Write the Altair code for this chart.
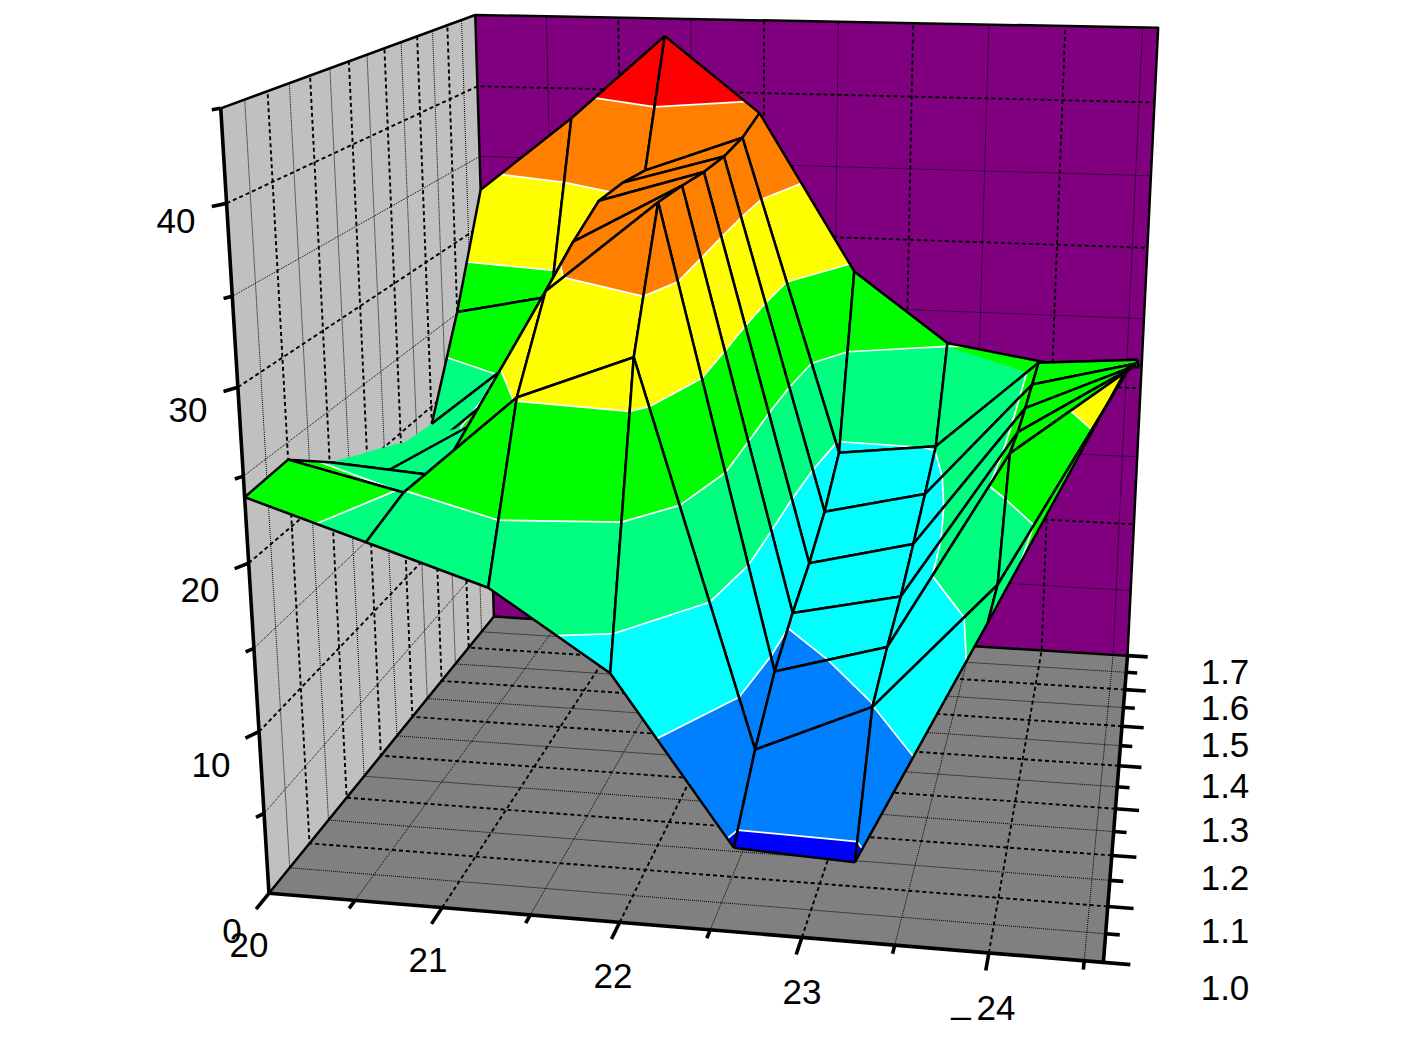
import numpy as np
import pandas as pd
import altair as alt

# ---- data ----
X_VALUES = [20.0, 20.66, 21.32, 21.97, 22.63, 23.28, 23.94, 24.58]
Y_VALUES = [1.0, 1.1, 1.2, 1.3, 1.4, 1.5, 1.6, 1.7]
Z_ROWS = [
    [23.8, 21.6, 19.4, 14.9, 5.1, 4.8, 19.1, 33.2],
    [24.0, 22.4, 28.3, 30.9, 8.1, 11.2, 18.9, 31.5],
    [21.9, 21.4, 32.9, 38.3, 10.3, 12.3, 24.5, 29.8],
    [20.6, 22.7, 34.5, 38.1, 11.6, 13.1, 23.9, 28.2],
    [19.2, 23.2, 35.8, 37.8, 12.6, 14.3, 23.6, 26.6],
    [18.8, 24.2, 35.8, 37.7, 14.0, 15.6, 23.4, 25.1],
    [25.1, 26.5, 35.5, 37.9, 16.2, 17.0, 23.2, 23.7],
    [32.6, 37.9, 43.8, 38.6, 27.6, 22.7, 21.6, 21.5],
]
# cells where the colour value differs from the drawn height (row, column) -> value
COLOUR_Z = {(1, 7): 31.7, (2, 7): 31.7}
# cells where the mesh line runs at another height than the filled sheet
MESH_Z = {(3, 0): 18.7, (4, 0): 17.4}
BAND_COLORS = ["#0000ff", "#0080ff", "#00ffff", "#00ff80", "#00ff00", "#ffff00", "#ff8000", "#ff0000"]
X_TICK_LABELS = ["20", "21", "22", "23", "24"]
Y_TICK_LABELS = ["1.0", "1.1", "1.2", "1.3", "1.4", "1.5", "1.6", "1.7"]
Z_TICK_LABELS = ["0", "10", "20", "30", "40"]

XMIN, XMAX, YMIN, YMAX, ZMIN, ZMAX = 20.0, 24.6, 1.0, 1.7, 0.0, 45.0
LEVELS = [ZMAX / 8 * i for i in range(1, 8)]

# ---- camera: perspective matrix fitted to the seven visible box corners ----
CAM = [268.9647, 771.3073, 382.6291, -68.6874, 893.2706, 14.0733, -79.9088, -794.9809, -0.0572, 0.3192, -0.0927]
P = np.array([CAM[:4], CAM[4:8], [1.0, *CAM[8:]]])


def project(x, y, z):
    q = P @ np.array([1.0, (x - XMIN) / (XMAX - XMIN), (y - YMIN) / (YMAX - YMIN), z / ZMAX])
    return q[0] / q[2], q[1] / q[2]


class Paths:
    def __init__(self):
        self.rows = []
        self.g = 0

    def add(self, pts, **style):
        self.g += 1
        for i, p in enumerate(pts):
            sx, sy = project(p[0], p[1], p[2])
            self.rows.append({"g": self.g, "i": i, "sx": sx, "sy": sy, **style})

    def frame(self):
        return pd.DataFrame(self.rows)


# ---- box: walls, floor ----
walls = Paths()
walls.add([(XMIN, YMAX, 0), (XMAX, YMAX, 0), (XMAX, YMAX, ZMAX), (XMIN, YMAX, ZMAX)], fill="#800080")
walls.add([(XMIN, YMIN, 0), (XMIN, YMAX, 0), (XMIN, YMAX, ZMAX), (XMIN, YMIN, ZMAX)], fill="#c0c0c0")
walls.add([(XMIN, YMIN, 0), (XMAX, YMIN, 0), (XMAX, YMAX, 0), (XMIN, YMAX, 0)], fill="#808080")

dashed, dotted = Paths(), Paths()
xs_grid = [20.5 + 0.5 * i for i in range(9)]
ys_grid = [1.05 + 0.05 * i for i in range(13)]
zs_grid = [5.0 * i for i in range(1, 9)]
for x in xs_grid:
    t = dashed if float(x).is_integer() else dotted
    t.add([(x, YMIN, 0), (x, YMAX, 0), (x, YMAX, ZMAX)])
for k, y in enumerate(ys_grid):
    t = dashed if k % 2 == 1 else dotted
    t.add([(XMAX, y, 0), (XMIN, y, 0), (XMIN, y, ZMAX)])
for k, z in enumerate(zs_grid):
    t = dashed if k % 2 == 1 else dotted
    t.add([(XMIN, YMIN, z), (XMIN, YMAX, z), (XMAX, YMAX, z)])

thin, thick = Paths(), Paths()
thin.add([(XMIN, YMIN, ZMAX), (XMIN, YMAX, ZMAX), (XMAX, YMAX, ZMAX), (XMAX, YMAX, 0), (XMIN, YMAX, 0), (XMIN, YMIN, 0)])
thin.add([(XMIN, YMAX, 0), (XMIN, YMAX, ZMAX)])
thick.add([(XMIN, YMIN, ZMAX), (XMIN, YMIN, 0), (XMAX, YMIN, 0), (XMAX, YMAX, 0)])

# ---- ticks ----
for i in range(10):
    x = 20 + 0.5 * i
    thick.add([(x, YMIN, 0), (x, YMIN - (0.03 if i % 2 == 0 else 0.015), 0)])
for i in range(15):
    y = 1 + 0.05 * i
    thick.add([(XMAX, y, 0), (XMAX + (0.14 if i % 2 == 0 else 0.075), y, 0)])
for i in range(1, 10):
    z = 5.0 * i
    s = 1.0 if i % 2 == 0 else 0.6
    thick.add([(XMIN, YMIN, z), (XMIN - 0.04 * s, YMIN - 0.015 * s, z)])

# ---- surface ----
HIDDEN_EDGES = {((2, 0), (3, 0)), ((3, 0), (4, 0)), ((4, 0), (5, 0))}


def lerp(a, b, t):
    return tuple(a[n] + t * (b[n] - a[n]) for n in range(4))


def clip(poly, level, keep_above):
    out = []
    n = len(poly)
    for k in range(n):
        a, b = poly[k], poly[(k + 1) % n]
        ina = a[3] >= level if keep_above else a[3] <= level
        inb = b[3] >= level if keep_above else b[3] <= level
        if ina:
            out.append(a)
        if ina != inb:
            out.append(lerp(a, b, (level - a[3]) / (b[3] - a[3])))
    return out


surface = Paths()
bounds = [-1e9] + LEVELS + [1e9]
for r in range(len(Y_VALUES) - 2, -1, -1):
    for c in range(len(X_VALUES) - 1):
        ids = [(r, c), (r, c + 1), (r + 1, c + 1), (r + 1, c)]
        quad = [(X_VALUES[j], Y_VALUES[i], Z_ROWS[i][j], COLOUR_Z.get((i, j), Z_ROWS[i][j])) for i, j in ids]
        mesh = [(X_VALUES[j], Y_VALUES[i], MESH_Z.get((i, j), Z_ROWS[i][j])) for i, j in ids]
        for b in range(8):
            poly = clip(quad, bounds[b], True)
            poly = clip(poly, bounds[b + 1], False) if poly else []
            if len(poly) >= 3:
                surface.add(poly, fill=BAND_COLORS[b], stroke=BAND_COLORS[b], sw=0.6)
        for L in LEVELS:
            pts = []
            for k in range(4):
                a, e = quad[k], quad[(k + 1) % 4]
                if (a[3] - L) * (e[3] - L) < 0:
                    pts.append(lerp(a, e, (L - a[3]) / (e[3] - a[3])))
            for k in range(0, len(pts) - 1, 2):
                surface.add(pts[k:k + 2], fill="transparent", stroke="#ffffff", sw=1.7)
        for k in range(4):
            i1, i2 = ids[k], ids[(k + 1) % 4]
            if (i1, i2) in HIDDEN_EDGES or (i2, i1) in HIDDEN_EDGES:
                continue
            surface.add([mesh[k], mesh[(k + 1) % 4]], fill="transparent", stroke="#000000", sw=2.5)

# ---- labels (layout, in picture coordinates) ----
labels = pd.DataFrame(
    {
        "t": X_TICK_LABELS + Y_TICK_LABELS + Z_TICK_LABELS + ["_"],
        "sx": [249, 428, 613, 802, 996] + [1225] * 8 + [232, 211, 200, 188, 176] + [961],
        "sy": [946, 961, 977, 993, 1009] + [989, 932, 879, 831, 787, 746, 709, 673] + [932, 766, 591, 411, 222] + [1002],
    }
)

xs = alt.X("sx:Q", axis=None, scale=alt.Scale(domain=[8, 1393], nice=False, zero=False))
ys = alt.Y("sy:Q", axis=None, scale=alt.Scale(domain=[1042, 8], nice=False, zero=False))


def lines(df, **mk):
    return (
        alt.Chart(alt.Data(values=df.to_dict("records")))
        .mark_line(clip=False, strokeJoin="round", **mk)
        .encode(x=xs, y=ys, detail="g:N", order="i:Q")
    )


wall_layer = alt.Chart(alt.Data(values=walls.frame().to_dict("records"))).mark_line(stroke="transparent").encode(
    x=xs, y=ys, detail="g:N", order="i:Q", fill=alt.Fill("fill:N", scale=None)
)
surface_layer = alt.Chart(alt.Data(values=surface.frame().to_dict("records"))).mark_line(strokeJoin="round").encode(
    x=xs, y=ys, detail="g:N", order="i:Q",
    fill=alt.Fill("fill:N", scale=None),
    stroke=alt.Stroke("stroke:N", scale=None),
    strokeWidth=alt.StrokeWidth("sw:Q", scale=None),
)
text_layer = alt.Chart(labels).mark_text(font="Liberation Sans", fontSize=35, color="#000000", align="center", baseline="middle").encode(
    x=xs, y=ys, text="t:N"
)

chart = alt.layer(
    wall_layer,
    lines(dotted.frame(), color="#000000", strokeWidth=1.0, strokeDash=[1, 1]),
    lines(dashed.frame(), color="#000000", strokeWidth=1.9, strokeDash=[4, 3]),
    lines(thin.frame(), color="#000000", strokeWidth=2.5),
    lines(thick.frame(), color="#000000", strokeWidth=3.6),
    surface_layer,
    text_layer,
).properties(
    width=1385, height=1034, padding=0, autosize=alt.AutoSizeParams(type="none"), background="#ffffff"
).configure_view(stroke=None)

chart.save("out.html", embed_options={"renderer": "svg", "actions": False})
